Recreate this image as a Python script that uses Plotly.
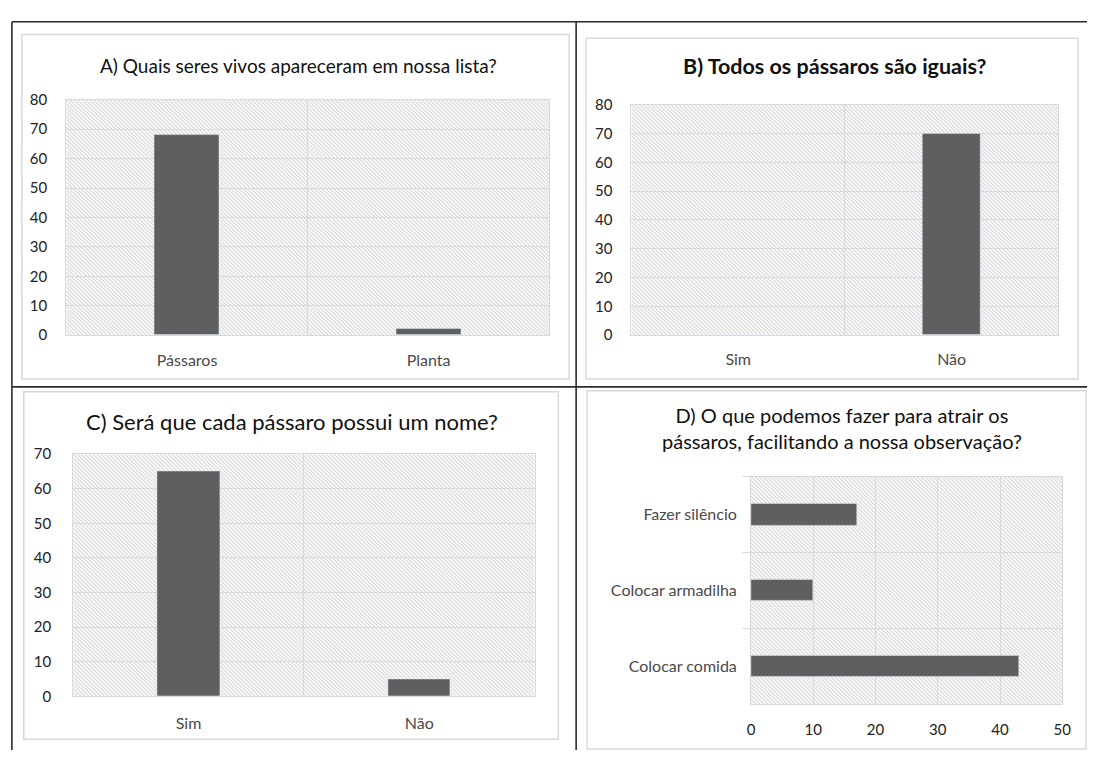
import base64
import plotly.graph_objects as go

W, H = 1096, 758

# ---- data ----
a_title = "A) Quais seres vivos apareceram em nossa lista?"
a_cats = ["Pássaros", "Planta"]
a_vals = [68, 2]

b_title = "<b>B) Todos os pássaros são iguais?</b>"
b_cats = ["Sim", "Não"]
b_vals = [0, 70]

c_title = "C) Será que cada pássaro possui um nome?"
c_cats = ["Sim", "Não"]
c_vals = [65, 5]

d_title = "D) O que podemos fazer para atrair os<br>pássaros, facilitando a nossa observação?"
d_cats = ["Colocar comida", "Colocar armadilha", "Fazer silêncio"]
d_vals = [43, 10, 17]

BAR = "#5f5f5f"
GRID = "#d9d9d9"
FONT = "Lato"


def px(x):
    return x / W


def py(y):
    return 1 - y / H


def hatch_uri(w, h):
    svg = (
        f'<svg xmlns="http://www.w3.org/2000/svg" width="{w}" height="{h}" viewBox="0 0 {w} {h}">'
        '<defs><pattern id="p" width="4" height="4" patternUnits="userSpaceOnUse">'
        '<path d="M0,0 L4,4 M-1,3 L1,5 M3,-1 L5,1" stroke="#cfcfcf" stroke-width="1.1"/>'
        '</pattern></defs>'
        f'<rect x="0" y="0" width="{w}" height="{h}" fill="white"/>'
        f'<rect x="0" y="0" width="{w}" height="{h}" fill="url(#p)"/></svg>'
    )
    return "data:image/svg+xml;base64," + base64.b64encode(svg.encode()).decode()


# plot areas in pixels: (x0, x1, y0, y1)
areas = {
    "a": (63, 552, 92, 333),
    "b": (635, 1067, 97, 333),
    "c": (70, 537, 455, 703),
    "d": (756, 1071, 478, 711),
}

fig = go.Figure()

fig.add_trace(go.Bar(x=a_cats, y=a_vals, marker_color=BAR, width=0.27,
                     xaxis="x", yaxis="y", showlegend=False))
fig.add_trace(go.Bar(x=b_cats, y=b_vals, marker_color=BAR, width=0.27,
                     xaxis="x2", yaxis="y2", showlegend=False))
fig.add_trace(go.Bar(x=c_cats, y=c_vals, marker_color=BAR, width=0.27,
                     xaxis="x3", yaxis="y3", showlegend=False))
fig.add_trace(go.Bar(y=d_cats, x=d_vals, orientation="h", marker_color=BAR, width=0.28,
                     xaxis="x4", yaxis="y4", showlegend=False))

cat_font = dict(family=FONT, size=16, color="#4a4a4a")
num_font = dict(family=FONT, size=15, color="#222222")


def cat_axis(area, horiz, anchor, **kw):
    x0, x1, y0, y1 = area
    dom = [px(x0), px(x1)] if horiz else [py(y1), py(y0)]
    return dict(domain=dom, type="category", tickson="boundaries", showgrid=True,
                gridcolor=GRID, gridwidth=1, showline=True, linecolor=GRID, mirror=True,
                tickfont=cat_font, anchor=anchor, zeroline=False, fixedrange=True, **kw)


def val_axis(area, horiz, anchor, rng, **kw):
    x0, x1, y0, y1 = area
    dom = [px(x0), px(x1)] if horiz else [py(y1), py(y0)]
    return dict(domain=dom, range=rng, dtick=10, showgrid=True, gridcolor=GRID, gridwidth=1,
                showline=True, linecolor=GRID, mirror=True, zeroline=False,
                tickfont=num_font, anchor=anchor, fixedrange=True, **kw)


fig.update_layout(
    width=W, height=H,
    margin=dict(l=0, r=0, t=0, b=0),
    paper_bgcolor="white", plot_bgcolor="rgba(0,0,0,0)",
    font=dict(family=FONT, color="#333333"),
    xaxis=cat_axis(areas["a"], True, "y", ticks="", ticklabelstandoff=11),
    yaxis=val_axis(areas["a"], False, "x", [0, 80], ticks="", ticklabelstandoff=15),
    xaxis2=cat_axis(areas["b"], True, "y2", ticks="", ticklabelstandoff=10),
    yaxis2=val_axis(areas["b"], False, "x2", [0, 80], ticks="", ticklabelstandoff=15),
    xaxis3=cat_axis(areas["c"], True, "y3", ticks="", ticklabelstandoff=12),
    yaxis3=val_axis(areas["c"], False, "x3", [0, 70], ticks="", ticklabelstandoff=18),
    xaxis4=val_axis(areas["d"], True, "y4", [0, 50], ticks="", ticklabelstandoff=12),
    yaxis4=cat_axis(areas["d"], False, "x4", ticks="outside", ticklen=8, tickcolor=GRID,
                    ticklabelstandoff=10),
    bargap=0,
)

# hatched plot-area backgrounds
images = []
for key, (x0, x1, y0, y1) in areas.items():
    images.append(dict(source=hatch_uri(x1 - x0, y1 - y0), xref="paper", yref="paper",
                       x=px(x0), y=py(y0), sizex=px(x1) - px(x0), sizey=py(y0) - py(y1),
                       xanchor="left", yanchor="top", sizing="stretch", layer="below"))
fig.update_layout(images=images)

shapes = []
# chart frames (light gray)
for (x0, y0, x1, y1) in [(18, 25, 572, 378), (589, 29, 1087, 378),
                         (20, 391, 561, 747), (590, 390, 1095, 757)]:
    shapes.append(dict(type="rect", xref="paper", yref="paper",
                       x0=px(x0), x1=px(x1), y0=py(y1), y1=py(y0),
                       line=dict(color="#d9d9d9", width=1.5), layer="below"))
# table borders (dark)
for (x0, y0, x1, y1) in [(8, 12, 1096, 12), (8, 386, 1096, 386),
                         (8, 12, 8, 758), (579, 12, 579, 758)]:
    shapes.append(dict(type="line", xref="paper", yref="paper",
                       x0=px(x0), x1=px(x1), y0=py(y0), y1=py(y1),
                       line=dict(color="#2b2b2b", width=1.6)))
fig.update_layout(shapes=shapes)

ann = [
    (a_title, 298, 57, 19),
    (b_title, 841, 57, 21.5),
    (c_title, 291, 422, 22),
    (d_title, 848, 428, 20),
]
fig.update_layout(annotations=[
    dict(text=t, x=px(x), y=py(y), xref="paper", yref="paper", xanchor="center",
         yanchor="middle", showarrow=False,
         font=dict(family=FONT, size=s, color="#111111"))
    for t, x, y, s in ann
])

fig.write_html("out.html")
